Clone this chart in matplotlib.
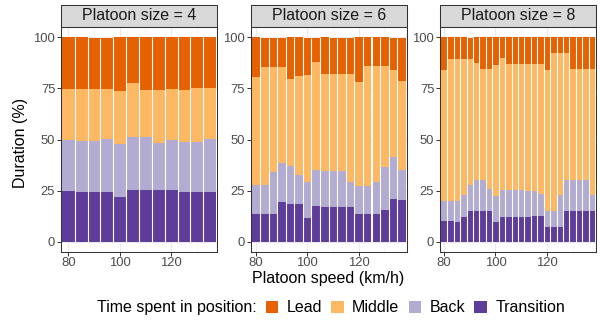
import matplotlib
matplotlib.use("Agg")
import matplotlib.pyplot as plt
from matplotlib.patches import Rectangle

plt.rcParams['font.family'] = ['Liberation Sans', 'DejaVu Sans']

# ---- data -------------------------------------------------------------
positions = ["Lead", "Middle", "Back", "Transition"]
palette = ["#E66101", "#FDB863", "#B2ABD2", "#5E3C99"]
platoon_sizes = [4, 6, 8]

speed_4 = [80, 85, 90, 95, 100, 105, 110, 115, 120, 125, 130, 135]
transition_4 = [24.9, 24.4, 24.4, 24.4, 22.0, 25.4, 25.4, 25.4, 25.4, 24.4, 24.4, 24.4]
back_4 = [25.1, 24.9, 24.9, 25.9, 25.9, 25.9, 25.9, 23.0, 24.6, 24.5, 24.5, 25.9]
middle_4 = [24.8, 25.5, 25.5, 24.5, 25.9, 26.4, 23.0, 25.9, 24.8, 25.4, 26.3, 24.9]
lead_4 = [25.2, 25.2, 24.9, 24.9, 26.2, 22.3, 25.7, 25.7, 25.2, 25.7, 24.8, 24.8]

speed_6 = [80.0, 83.3, 86.7, 90.0, 93.3, 96.7, 100.0, 103.3, 106.7,
           110.0, 113.3, 116.7, 120.0, 123.3, 126.7, 130.0, 133.3, 136.7]
transition_6 = [13.8, 13.8, 13.8, 19.5, 18.6, 18.6, 11.7, 17.6, 17.1,
                17.1, 17.1, 17.1, 13.8, 13.8, 13.8, 15.6, 21.0, 20.5]
back_6 = [14.1, 14.1, 20.4, 19.1, 18.5, 14.1, 17.6, 17.6, 17.6,
          17.6, 17.6, 12.2, 13.6, 13.6, 15.5, 21.0, 20.5, 14.7]
middle_6 = [52.7, 57.6, 51.3, 46.9, 42.5, 48.4, 52.3, 52.7, 47.4,
            47.4, 47.4, 52.8, 50.8, 58.6, 56.7, 49.4, 42.5, 43.5]
lead_6 = [19.4, 14.2, 14.2, 14.2, 20.4, 18.9, 18.1, 11.8, 17.9,
          17.6, 17.6, 17.6, 21.8, 14.0, 14.0, 14.0, 15.7, 21.0]

speed_8 = [80.0, 82.5, 85.0, 87.5, 90.0, 92.5, 95.0, 97.5, 100.0, 102.5, 105.0, 107.5,
           110.0, 112.5, 115.0, 117.5, 120.0, 122.5, 125.0, 127.5, 130.0, 132.5, 135.0, 137.5]
transition_8 = [10.3, 10.3, 9.8, 12.2, 15.1, 15.1, 15.1, 15.1, 9.8, 12.2, 12.2, 12.2,
                12.2, 12.2, 12.7, 12.7, 7.3, 7.3, 7.3, 15.1, 15.1, 15.1, 15.1, 15.1]
back_8 = [9.7, 9.7, 10.2, 10.8, 12.8, 15.2, 15.2, 10.8, 12.7, 13.2, 13.2, 13.2,
          13.2, 12.7, 12.2, 10.8, 7.8, 7.8, 15.7, 15.2, 15.2, 15.2, 15.2, 7.9]
middle_8 = [64.2, 69.4, 69.4, 66.4, 61.5, 57.2, 54.2, 58.6, 64.0, 64.5, 61.6, 61.6,
            61.6, 62.1, 62.1, 63.5, 68.9, 77.2, 69.3, 62.0, 54.2, 54.2, 54.2, 61.5]
lead_8 = [15.8, 10.6, 10.6, 10.6, 10.3, 12.5, 15.5, 15.5, 13.5, 10.1, 13.0, 13.0,
          13.0, 13.0, 13.0, 13.0, 16.0, 7.7, 7.7, 7.7, 15.5, 15.5, 15.5, 15.5]

x_ticks = [80, 100, 120]
y_ticks = [0, 25, 50, 75, 100]

panels = [
    (speed_4, {"Lead": lead_4, "Middle": middle_4, "Back": back_4, "Transition": transition_4}),
    (speed_6, {"Lead": lead_6, "Middle": middle_6, "Back": back_6, "Transition": transition_6}),
    (speed_8, {"Lead": lead_8, "Middle": middle_8, "Back": back_8, "Transition": transition_8}),
]

# ---- figure -----------------------------------------------------------
W, H = 600, 320
fig = plt.figure(figsize=(W / 100, H / 100), dpi=100)

def fx(px):
    return px / W

def fy(py):
    return 1 - py / H

TITLE_SIZE = 11.5
TICK_SIZE = 9.4
DARK = "#333333"
colour = dict(zip(positions, palette))

panel_left = [61, 250.7, 440]
panel_w, panel_top, panel_bottom = 156, 27, 252
strip_h = 22

for left, size, (speeds, series) in zip(panel_left, platoon_sizes, panels):
    ax = fig.add_axes([fx(left), fy(panel_bottom), panel_w / W, (panel_bottom - panel_top) / H])
    n = len(speeds)
    width = (speeds[-1] - speeds[0]) / (n - 1)

    # stacked bars, bottom to top
    base = [0.0] * n
    for pos in ["Transition", "Back", "Middle", "Lead"]:
        vals = series[pos]
        ax.bar(speeds, vals, width=width, bottom=base, color=colour[pos],
               linewidth=0, zorder=2)
        base = [b + v for b, v in zip(base, vals)]

    # thin white gaps between neighbouring bars
    edges = [(speeds[i] + speeds[i + 1]) / 2 for i in range(n - 1)]
    tops = [max(base[i], base[i + 1]) for i in range(n - 1)]
    ax.vlines(edges, 0, tops, colors="white", linewidth=0.8, zorder=3)

    pad = 0.3
    ax.set_xlim(speeds[0] - width / 2 - pad, speeds[-1] + width / 2 + pad)
    ax.set_ylim(-5, 105)

    ax.set_xticks(x_ticks)
    ax.set_xticks([90, 110, 130], minor=True)
    ax.set_yticks(y_ticks)
    ax.set_yticks([12.5, 37.5, 62.5, 87.5], minor=True)
    ax.grid(which="major", color="#EBEBEB", linewidth=0.8, zorder=0)
    ax.grid(which="minor", color="#F2F2F2", linewidth=0.4, zorder=0)
    ax.set_axisbelow(True)

    ax.tick_params(which="major", length=2.75, width=0.7, color=DARK,
                   labelcolor="#4D4D4D", labelsize=TICK_SIZE)
    ax.tick_params(which="minor", length=0)
    ax.tick_params(axis="y", pad=1.4)
    ax.tick_params(axis="x", pad=0.9)
    for sp in ax.spines.values():
        sp.set_color(DARK)
        sp.set_linewidth(0.75)
        sp.set_zorder(5)

    # facet strip
    sh = strip_h / (panel_bottom - panel_top)
    ax.add_patch(Rectangle((0, 1), 1, sh, transform=ax.transAxes, clip_on=False,
                           facecolor="#D9D9D9", edgecolor=DARK, linewidth=0.75))
    ax.text(0.5, 1 + sh / 2, f"Platoon size = {size}", transform=ax.transAxes,
            ha="center", va="center", fontsize=TITLE_SIZE, color="#1A1A1A")

# axis titles
fig.text(fx(21), fy(143), "Duration (%)", rotation=90, ha="center", va="center",
         fontsize=TITLE_SIZE, color="black")
fig.text(fx(328.5), fy(282.5), "Platoon speed (km/h)", ha="center", va="baseline",
         fontsize=TITLE_SIZE, color="black")

# legend along the bottom
fig.canvas.draw()
renderer = fig.canvas.get_renderer()

def text_w(s):
    t = fig.text(0, 0, s, fontsize=TITLE_SIZE)
    w = t.get_window_extent(renderer).width
    t.remove()
    return w

legend_title = "Time spent in position:"
key, key_gap, item_gap, title_gap = 12.5, 8.3, 9.3, 9
label_ws = [text_w(p) for p in positions]
total = text_w(legend_title) + title_gap + sum(key + key_gap + w for w in label_ws) \
    + item_gap * (len(positions) - 1)
x = 331 - total / 2
y_mid, y_base = 307.0, 312.3
fig.text(fx(x), fy(y_base), legend_title, ha="left", va="baseline",
         fontsize=TITLE_SIZE, color="black")
x += text_w(legend_title) + title_gap
for pos, w in zip(positions, label_ws):
    fig.patches.append(Rectangle((fx(x), fy(y_mid + key / 2)), key / W, key / H,
                                 transform=fig.transFigure, facecolor=colour[pos],
                                 linewidth=0))
    x += key + key_gap
    fig.text(fx(x), fy(y_base), pos, ha="left", va="baseline",
             fontsize=TITLE_SIZE, color="black")
    x += w + item_gap

fig.savefig("out.png", dpi=100)
